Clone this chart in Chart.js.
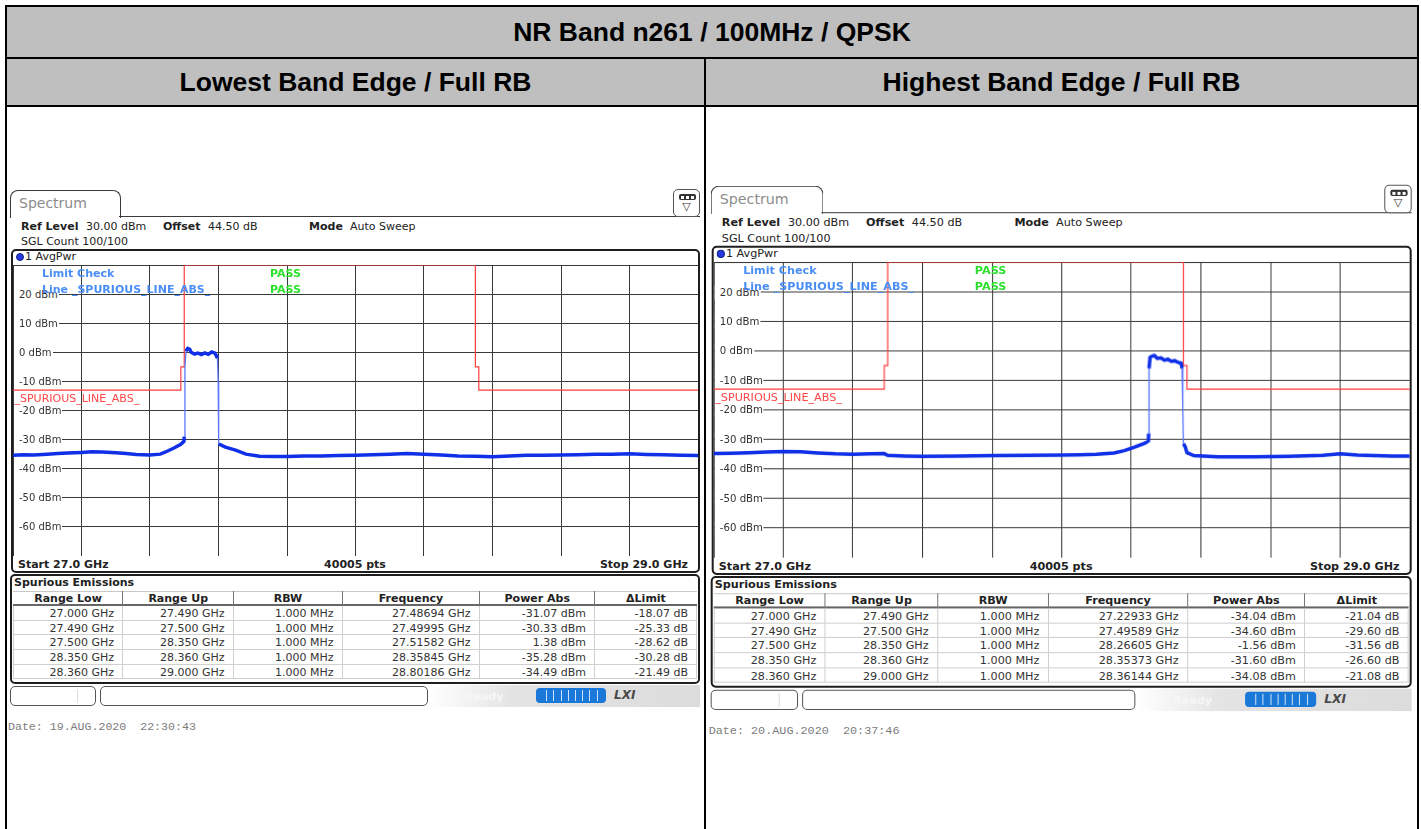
<!DOCTYPE html>
<html>
<head>
<meta charset="utf-8">
<script src="https://cdn.jsdelivr.net/npm/chart.js@4.4.1/dist/chart.umd.min.js"></script>
<style>
html, body { margin: 0; padding: 0; background: #fff; }
#page { position: relative; width: 1421px; height: 829px; overflow: hidden; font-family: "Liberation Sans", Arial, sans-serif; }
.hdr { position: absolute; background: #bfbfbf; font-weight: bold; font-size: 26.5px; color: #000;
       display: flex; align-items: center; justify-content: center; }
.line { position: absolute; background: #000; }
.panel { position: absolute; left: 0; top: 0; width: 720px; height: 829px; transform-origin: 0 0;
         font-family: "DejaVu Sans", Verdana, sans-serif; font-size: 11px; color: #222; }
.t { position: absolute; white-space: pre; line-height: 13px; }
.b { position: absolute; box-sizing: border-box; }
canvas { position: absolute; }
</style>
</head>
<body>
<div id="page">
  <div class="hdr" style="left:7px;top:7px;width:1410px;height:50px;">NR Band n261 / 100MHz / QPSK</div>
  <div class="hdr" style="left:7px;top:59px;width:697px;height:46px;">Lowest Band Edge / Full RB</div>
  <div class="hdr" style="left:706px;top:59px;width:711px;height:46px;">Highest Band Edge / Full RB</div>
  <div class="line" style="left:5px;top:5px;width:1414px;height:2px;"></div>
  <div class="line" style="left:5px;top:5px;width:2px;height:830px;"></div>
  <div class="line" style="left:1417px;top:5px;width:2px;height:830px;"></div>
  <div class="line" style="left:5px;top:57px;width:1414px;height:2px;"></div>
  <div class="line" style="left:5px;top:105px;width:1414px;height:2px;"></div>
  <div class="line" style="left:704px;top:57px;width:2px;height:780px;"></div>
  <div id="panelLow" class="panel"></div>
  <div id="panelHigh" class="panel" style="transform: translate(700.5px,-7.25px) scale(1.016);"></div>
</div>
<script>
// sweep settings
const startGHz = 27.0;
const stopGHz = 29.0;
const yTicks = [20, 10, 0, -10, -20, -30, -40, -50, -60];

// limit line _SPURIOUS_LINE_ABS_ (same for both plots)
const limitFreq = [27.0, 27.49, 27.49, 27.5, 27.5, 28.35, 28.35, 28.36, 28.36, 29.0];
const limitDbm  = [-13, -13, -5, -5, 30, 30, -5, -5, -13, -13];

// lowest band edge trace (1 AvgPwr)
const freqLow = [27.0, 27.03, 27.06, 27.1, 27.13, 27.16, 27.2, 27.23, 27.26, 27.3, 27.33, 27.36, 27.4, 27.43,
  27.45, 27.47, 27.49, 27.499, 27.5, 27.502, 27.505, 27.51, 27.516, 27.52, 27.53, 27.54, 27.55, 27.56,
  27.57, 27.58, 27.59, 27.597, 27.599, 27.6, 27.601, 27.62, 27.65, 27.68, 27.72, 27.76, 27.8, 27.85,
  27.9, 27.95, 28.0, 28.05, 28.1, 28.15, 28.2, 28.25, 28.3, 28.35, 28.4, 28.45, 28.5, 28.55, 28.6,
  28.65, 28.7, 28.75, 28.8, 28.85, 28.9, 28.95, 29.0];
const powLow = [-35.4, -35.2, -35.3, -35.0, -34.8, -34.6, -34.4, -34.2, -34.3, -34.5, -34.8, -35.1, -35.3, -35.0,
  -34.0, -32.9, -31.6, -30.6, -29.0, -5.0, 0.4, 1.3, 1.0, 0.0, -0.6, -0.3, -0.8, -0.2,
  -0.7, 0.1, -0.3, -2.0, -10.0, -21.0, -31.5, -32.6, -33.6, -35.0, -35.7, -35.8, -35.8, -35.6,
  -35.6, -35.5, -35.4, -35.2, -35.0, -34.8, -35.0, -35.3, -35.6, -35.7, -35.9, -35.6, -35.4, -35.4, -35.3,
  -35.2, -35.0, -35.0, -34.9, -35.1, -35.2, -35.4, -35.5];

// highest band edge trace (1 AvgPwr)
const freqHigh = [27.0, 27.05, 27.1, 27.15, 27.2, 27.25, 27.3, 27.35, 27.4, 27.45, 27.49, 27.5, 27.55, 27.6,
  27.7, 27.8, 27.9, 28.0, 28.05, 28.1, 28.15, 28.18, 28.21, 28.24, 28.249, 28.25, 28.251, 28.254, 28.26,
  28.266, 28.275, 28.285, 28.295, 28.305, 28.315, 28.325, 28.335, 28.343, 28.346, 28.348, 28.35, 28.355,
  28.36, 28.38, 28.45, 28.55, 28.65, 28.75, 28.8, 28.85, 28.95, 29.0];
const powHigh = [-34.8, -34.7, -34.5, -34.3, -34.1, -34.2, -34.6, -34.9, -35.0, -34.9, -34.8, -35.4, -35.6, -35.7,
  -35.6, -35.5, -35.4, -35.3, -35.2, -35.0, -34.6, -33.8, -32.6, -31.2, -30.5, -28.0, -6.0, -2.2, -1.8,
  -1.6, -2.6, -2.4, -3.2, -2.9, -3.6, -3.4, -4.0, -4.2, -6.0, -20.0, -31.5, -32.5,
  -34.5, -35.5, -35.9, -35.9, -35.7, -35.4, -34.9, -35.3, -35.6, -35.6];

// spurious emissions tables
const rangeLowGHz = [27.000, 27.490, 27.500, 28.350, 28.360];
const rangeUpGHz  = [27.490, 27.500, 28.350, 28.360, 29.000];
const rbwMHz      = [1.000, 1.000, 1.000, 1.000, 1.000];
const peakFreqLow = [27.48694, 27.49995, 27.51582, 28.35845, 28.80186];
const peakPowLow  = [-31.07, -30.33, 1.38, -35.28, -34.49];
const deltaLow    = [-18.07, -25.33, -28.62, -30.28, -21.49];
const peakFreqHigh = [27.22933, 27.49589, 28.26605, 28.35373, 28.36144];
const peakPowHigh  = [-34.04, -34.60, -1.56, -31.60, -34.08];
const deltaHigh    = [-21.04, -29.60, -31.56, -26.60, -21.08];

function label(parent, s, x, cy, o) {
    o = o || {};
    const d = document.createElement('div');
    d.className = 't';
    d.textContent = s;
    const align = o.align || 'left';
    if (align === 'left') {
        d.style.left = x + 'px';
    } else if (align === 'right') {
        d.style.left = (x - 300) + 'px'; d.style.width = '300px'; d.style.textAlign = 'right';
    } else {
        d.style.left = (x - 150) + 'px'; d.style.width = '300px'; d.style.textAlign = 'center';
    }
    d.style.top = (cy - 6.5) + 'px';
    if (o.bold) d.style.fontWeight = 'bold';
    if (o.color) d.style.color = o.color;
    if (o.size) d.style.fontSize = o.size + 'px';
    if (o.font) d.style.fontFamily = o.font;
    if (o.bg) d.style.background = o.bg;
    if (o.pad) d.style.padding = o.pad;
    parent.appendChild(d);
    return d;
}

function box(parent, x, y, w, h, css) {
    const d = document.createElement('div');
    d.className = 'b';
    d.style.cssText = 'left:' + x + 'px;top:' + y + 'px;width:' + w + 'px;height:' + h + 'px;' + (css || '');
    parent.appendChild(d);
    return d;
}

function buildPanel(root, cfg) {
    // tab + header
    box(root, 10, 190, 111, 28, 'border:1.5px solid #3a3a3a;border-bottom:none;border-radius:8px 8px 0 0;background:#fff;');
    label(root, 'Spectrum', 19, 203, { size: 14, color: '#8c8c8c' });
    box(root, 119, 216, 581, 2, 'border-top:1.5px solid #3a3a3a;');
    box(root, 673, 189, 27, 28, 'border:1.5px solid #555;border-radius:5px;background:#fff;');
    const ic = box(root, 679, 194, 17, 6, 'background:#333;border-radius:2px;');
    for (let i = 0; i < 3; i++) box(ic, 2 + i * 5, 1.5, 3, 3, 'background:#fff;');
    label(root, '▽', 686.5, 206, { align: 'center', size: 11, color: '#333' });

    label(root, 'Ref Level', 21, 226.5, { bold: true });
    label(root, '30.00 dBm', 86, 226.5);
    label(root, 'Offset', 163, 226.5, { bold: true });
    label(root, '44.50 dB', 208, 226.5);
    label(root, 'Mode', 309, 226.5, { bold: true });
    label(root, 'Auto Sweep', 350, 226.5);
    label(root, 'SGL Count 100/100', 21, 241);

    // plot frame
    box(root, 11, 249, 689, 324, 'border:2px solid #1e1e1e;border-radius:5px;');
    box(root, 15.5, 252.5, 8.5, 8.5, 'background:#2838e0;border-radius:50%;border:1px solid #102080;');
    label(root, '1 AvgPwr', 25, 256.5);

    const cv = document.createElement('canvas');
    cv.width = 685; cv.height = 291;
    cv.style.left = '13px'; cv.style.top = '265px';
    root.appendChild(cv);

    const trace = cfg.freq.map((f, i) => ({ x: f, y: cfg.pow[i] }));
    const limit = limitFreq.map((f, i) => ({ x: f, y: limitDbm[i] }));
    const steep = ctx => Math.abs(ctx.p1.parsed.y - ctx.p0.parsed.y) > 4;

    const chart = new Chart(cv, {
        type: 'line',
        data: {
            datasets: [{
                label: '1 AvgPwr',
                data: trace,
                borderColor: '#1030e8',
                borderWidth: 3.5,
                pointRadius: 0,
                tension: 0,
                segment: {
                    borderColor: ctx => steep(ctx) ? '#5a78ff' : undefined,
                    borderWidth: ctx => steep(ctx) ? 1.3 : undefined
                }
            }, {
                label: '_SPURIOUS_LINE_ABS_',
                data: limit,
                borderColor: '#ff3b3b',
                borderWidth: 1.2,
                pointRadius: 0,
                tension: 0
            }]
        },
        options: {
            responsive: false,
            animation: false,
            events: [],
            layout: { padding: 0 },
            plugins: { legend: { display: false }, tooltip: { enabled: false } },
            scales: {
                x: {
                    type: 'linear', min: startGHz, max: stopGHz,
                    ticks: { display: false, stepSize: 0.2 },
                    grid: { color: '#3a3a3a', lineWidth: 1, drawTicks: false },
                    border: { display: false }
                },
                y: {
                    type: 'linear', min: -70, max: 30,
                    ticks: { display: false, stepSize: 10 },
                    grid: { color: '#3a3a3a', lineWidth: 1, drawTicks: false },
                    border: { display: false }
                }
            }
        }
    });

    // level labels inside the grid, placed through the chart's y scale
    yTicks.forEach(v => {
        const py = 265 + chart.scales.y.getPixelForValue(v);
        label(root, v + ' dBm', 14, py, { size: 10, color: '#333', bg: '#fff', pad: '0 1px 0 5px' });
    });

    label(root, 'Limit Check', 42, 273.3, { bold: true, color: '#4a8ef5' });
    label(root, 'PASS', 270, 273.3, { bold: true, color: '#2ee02e' });
    label(root, 'Line _SPURIOUS_LINE_ABS_', 42, 289, { bold: true, color: '#4a8ef5' });
    label(root, 'PASS', 270, 289, { bold: true, color: '#2ee02e' });
    label(root, '_SPURIOUS_LINE_ABS_', 14.5, 398.5, { color: '#ff4545' });

    label(root, 'Start ' + startGHz.toFixed(1) + ' GHz', 18, 564, { bold: true });
    label(root, '40005 pts', 355, 564, { bold: true, align: 'center' });
    label(root, 'Stop ' + stopGHz.toFixed(1) + ' GHz', 688, 564, { bold: true, align: 'right' });

    // spurious emissions table
    box(root, 10, 574, 690, 110, 'border:2px solid #1e1e1e;border-radius:5px;');
    label(root, 'Spurious Emissions', 14, 582, { bold: true });
    const edges = [13, 123, 233.5, 342.5, 479.5, 595, 697];
    const heads = ['Range Low', 'Range Up', 'RBW', 'Frequency', 'Power Abs', '\u0394Limit'];
    const cols = [
        rangeLowGHz.map(v => v.toFixed(3) + ' GHz'),
        rangeUpGHz.map(v => v.toFixed(3) + ' GHz'),
        rbwMHz.map(v => v.toFixed(3) + ' MHz'),
        cfg.pkFreq.map(v => v.toFixed(5) + ' GHz'),
        cfg.pkPow.map(v => v.toFixed(2) + ' dBm'),
        cfg.delta.map(v => v.toFixed(2) + ' dB')
    ];
    box(root, 13, 591, 684, 1, 'background:#c8c8c8;');
    for (let c = 0; c < 6; c++) {
        const x0 = edges[c], x1 = edges[c + 1];
        box(root, x0, 591, x1 - x0, 15,
            'border-bottom:2px solid #666;' + (c < 5 ? 'border-right:1.5px solid #777;' : ''));
        label(root, heads[c], (x0 + x1) / 2, 598.3, { bold: true, align: 'center' });
        for (let r = 0; r < 5; r++) {
            const y0 = 606 + r * 14.7;
            box(root, x0, y0, x1 - x0, 14.7,
                'border-bottom:1px solid #cfcfcf;border-right:1px solid #cfcfcf;' + (c === 0 ? 'border-left:1px solid #cfcfcf;' : ''));
            label(root, cols[c][r], x1 - 9, y0 + 7.3, { align: 'right', color: '#333' });
        }
    }

    // status bar
    box(root, 430, 685, 270, 22, 'background:linear-gradient(90deg,#fff 0%,#e4e4e4 30%,#dcdcdc 100%);');
    box(root, 10, 686, 86, 20, 'border:1px solid #555;border-radius:5px;background:#fff;');
    box(root, 77, 689, 1, 14, 'background:#ddd;');
    box(root, 100, 686, 328, 20, 'border:1px solid #555;border-radius:5px;background:#fff;');
    label(root, 'Ready', 465, 696, { bold: true, color: '#f6f6f6' });
    const pb = box(root, 536, 688, 70, 14.5, 'background:#1a78d8;border-radius:4px;');
    for (let i = 1; i < 9; i++) box(pb, 3 + i * 7.2, 2, 1, 10.5, 'background:#cfe3f8;');
    label(root, 'LXI', 614, 695, { bold: true, color: '#4a4a4a', size: 12 }).style.fontStyle = 'italic';

    label(root, cfg.date, 8, 726, { font: '"Liberation Mono", monospace', size: 11.6, color: '#7c7c7c' });
}

buildPanel(document.getElementById('panelLow'), {
    freq: freqLow, pow: powLow,
    pkFreq: peakFreqLow, pkPow: peakPowLow, delta: deltaLow,
    date: 'Date: 19.AUG.2020  22:30:43'
});
buildPanel(document.getElementById('panelHigh'), {
    freq: freqHigh, pow: powHigh,
    pkFreq: peakFreqHigh, pkPow: peakPowHigh, delta: deltaHigh,
    date: 'Date: 20.AUG.2020  20:37:46'
});
</script>
</body>
</html>
